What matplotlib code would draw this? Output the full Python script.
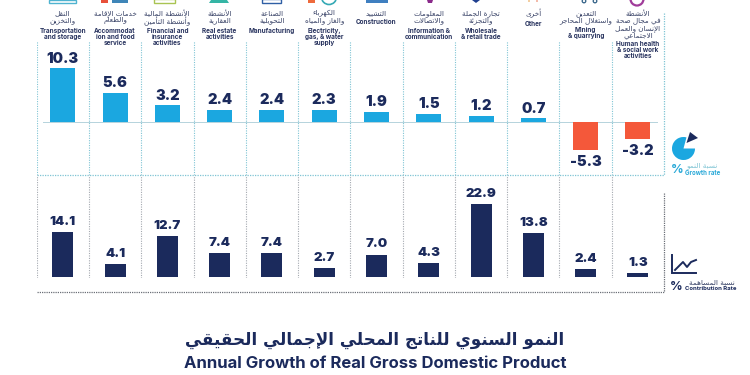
"""
Annual growth of real GDP by sector: growth rate and contribution rate panels
"""
import numpy as np
import matplotlib
matplotlib.use("Agg")
import matplotlib.pyplot as plt
from matplotlib.patches import Rectangle, Circle, Wedge, Polygon, Arc

# data
growth_rate = [10.3, 5.6, 3.2, 2.4, 2.4, 2.3, 1.9, 1.5, 1.2, 0.7, -5.3, -3.2]
contribution_rate = [14.1, 4.1, 12.7, 7.4, 7.4, 2.7, 7.0, 4.3, 22.9, 13.8, 2.4, 1.3]
labels_en = [
    ["Transportation", "and storage"],
    ["Accommodat", "ion and food", "service"],
    ["Financial and", "insurance", "activities"],
    ["Real estate", "activities"],
    ["Manufacturing"],
    ["Electricity,", "gas, & water", "supply"],
    ["Construction"],
    ["Information &", "communication"],
    ["Wholesale", "& retail trade"],
    ["Other"],
    ["Mining", "& quarrying"],
    ["Human health", "& social work", "activities"],
]
labels_ar = [
    ["النقل", "والتخزين"],
    ["خدمات الإقامة", "والطعام"],
    ["الأنشطة المالية", "وأنشطة التأمين"],
    ["الأنشطة", "العقارية"],
    ["الصناعة", "التحويلية"],
    ["الكهرباء", "والغاز والمياه"],
    ["التشييد"],
    ["المعلومات", "والاتصالات"],
    ["تجارة الجملة", "والتجزئة"],
    ["أخرى"],
    ["التعدين", "واستغلال المحاجر"],
    ["الأنشطة", "في مجال صحة", "الإنسان والعمل", "الاجتماعي"],
]
en_top = [31, 31, 31, 31, 31.5, 31, 22, 31, 31, 24, 30, 44]

BLUE = "#1ba7e0"
ORANGE = "#f4583a"
NAVY = "#1b2a5c"
TEAL = "#7fc4d4"
GRAY = "#a4a9b0"
W, H = 750, 375

# Arabic presentation forms: (first codepoint, number of forms)
FORMS = {"ء": (0xFE80, 1), "آ": (0xFE81, 2), "أ": (0xFE83, 2), "ؤ": (0xFE85, 2), "إ": (0xFE87, 2),
         "ئ": (0xFE89, 4), "ا": (0xFE8D, 2), "ب": (0xFE8F, 4), "ة": (0xFE93, 2), "ت": (0xFE95, 4),
         "ث": (0xFE99, 4), "ج": (0xFE9D, 4), "ح": (0xFEA1, 4), "خ": (0xFEA5, 4), "د": (0xFEA9, 2),
         "ذ": (0xFEAB, 2), "ر": (0xFEAD, 2), "ز": (0xFEAF, 2), "س": (0xFEB1, 4), "ش": (0xFEB5, 4),
         "ص": (0xFEB9, 4), "ض": (0xFEBD, 4), "ط": (0xFEC1, 4), "ظ": (0xFEC5, 4), "ع": (0xFEC9, 4),
         "غ": (0xFECD, 4), "ف": (0xFED1, 4), "ق": (0xFED5, 4), "ك": (0xFED9, 4), "ل": (0xFEDD, 4),
         "م": (0xFEE1, 4), "ن": (0xFEE5, 4), "ه": (0xFEE9, 4), "و": (0xFEED, 2), "ى": (0xFEEF, 2),
         "ي": (0xFEF1, 4)}
LAM_ALEF = {"آ": 0xFEF5, "أ": 0xFEF7, "إ": 0xFEF9, "ا": 0xFEFB}


def shape_ar(text):
    # matplotlib does no Arabic shaping, so pick the forms and reverse by hand
    out = []
    i = 0
    joins = False
    while i < len(text):
        c = text[i]
        if c not in FORMS:
            out.append(c)
            joins = False
            i += 1
            continue
        nxt = text[i + 1] if i + 1 < len(text) else ""
        if c == "ل" and nxt in LAM_ALEF:
            out.append(chr(LAM_ALEF[nxt] + (1 if joins else 0)))
            joins = False
            i += 2
            continue
        start, n = FORMS[c]
        next_joinable = nxt in FORMS
        if n == 4:
            form = (3 if next_joinable else 1) if joins else (2 if next_joinable else 0)
            joins = next_joinable
        elif n == 2:
            form = 1 if joins else 0
            joins = False
        else:
            form = 0
            joins = False
        out.append(chr(start + form))
        i += 1
    return "".join(reversed(out))


def px_axes(x0, x1, y0, y1):
    return fig.add_axes([x0 / W, 1 - y1 / H, (x1 - x0) / W, (y1 - y0) / H])


fig = plt.figure(figsize=(7.5, 3.75), dpi=100, facecolor="white")

# overlay in pixel coordinates for decoration and text
bg = fig.add_axes([0, 0, 1, 1])
bg.set_xlim(0, W)
bg.set_ylim(H, 0)
bg.axis("off")

x = np.arange(len(growth_rate))

# top panel
ax1 = px_axes(36.7, 664, 41, 175)
ax1.set_xlim(-0.5, 11.5)
ax1.set_ylim(-(175 - 122) / 5.2, (122 - 41) / 5.2)
ax1.bar(x, growth_rate, width=0.478, color=[BLUE if v > 0 else ORANGE for v in growth_rate], zorder=3)
ax1.plot([-0.37, 11.37], [0, 0], color="#b5d3dc", lw=0.7, zorder=2)
for i, v in zip(x, growth_rate):
    off = 2 if v > 0 else -4
    ax1.annotate(f"{v:.1f}", (i, v), xytext=(0, off), textcoords="offset points", ha="center",
                 va="bottom" if v > 0 else "top", fontsize=10.5, fontweight="black", family="Inter", color=NAVY)

# bottom panel
ax2 = px_axes(36.7, 664, 175, 278)
ax2.set_xlim(-0.5, 11.5)
ax2.set_ylim(-1 / 3.2, 102 / 3.2)
ax2.bar(x, contribution_rate, width=0.402, color=NAVY, zorder=3)
for i, v in zip(x, contribution_rate):
    ax2.annotate(f"{v:.1f}", (i, v), xytext=(0, 3), textcoords="offset points", ha="center", va="bottom",
                 fontsize=9.5, fontweight="black", family="Inter", color=NAVY)

for ax, col in ((ax1, TEAL), (ax2, GRAY)):
    ax.axis("off")
    ax.patch.set_alpha(0)
    for b in np.arange(-0.5, 11.5):
        ax.axvline(b, color=col, lw=0.8, ls=(0, (1, 1.2)), zorder=1)

# frame lines
bg.plot([664, 664], [13, 175], color=TEAL, lw=0.9, ls=(0, (1, 1)))
bg.plot([36.7, 664], [175, 175], color=TEAL, lw=0.9, ls=(0, (1, 1)))
bg.plot([36.7, 664], [292, 292], color="#6c7078", lw=0.9, ls=(0, (1, 0.8)))
bg.plot([664, 664], [193, 292], color="#6c7078", lw=0.9, ls=(0, (1, 0.8)))

# category labels
for i, (ar, en, top) in enumerate(zip(labels_ar, labels_en, en_top)):
    cx = 62.7 + 52.3 * i
    for j, line in enumerate(ar):
        bg.text(cx, 13.5 + 7.4 * j, shape_ar(line), ha="center", va="center", fontsize=5.2,
                family="DejaVu Sans", color="#3a4468")
    for j, line in enumerate(en):
        bg.text(cx, top + 6 * j, line, ha="center", va="center", fontsize=4.6, fontweight="bold",
                family="Inter", color="#2a3560")

# cropped icons along the top edge
bg.add_patch(Rectangle((49, 0), 27, 2.5, fc="none", ec="#4fb3d0", lw=1))
bg.add_patch(Rectangle((101, 0), 7, 3, fc="#e8503a", ec="none"))
bg.add_patch(Rectangle((112, 0), 16, 3, fc="#3f86b8", ec="none"))
bg.add_patch(Rectangle((154, -1), 21, 4, fc="none", ec="#a9c452", lw=1))
bg.add_patch(Polygon([(211, 0), (227, 0), (229, 3), (209, 3)], fc="#35b5a5", ec="none"))
bg.add_patch(Rectangle((262, -1), 19, 4, fc="none", ec="#2f5fa5", lw=1))
bg.add_patch(Rectangle((308, 0), 7, 2.5, fc="#ee6a3c", ec="none"))
bg.add_patch(Arc((329, -3), 15, 15, theta1=0, theta2=180, color="#35a9b5", lw=1.2))
bg.add_patch(Rectangle((366, 0), 22, 3, fc="#3f7fc0", ec="none"))
bg.add_patch(Polygon([(427, 0), (433, 0), (432, 3), (428, 3)], fc="#8a2a8a", ec="none"))
bg.add_patch(Polygon([(472, 0), (480, 0), (476, 3)], fc="#1f3f8f", ec="none"))
bg.add_patch(Circle((529, 1), 0.8, fc="#e8a04a", ec="none"))
bg.add_patch(Circle((537, 1), 0.8, fc="#e87a5a", ec="none"))
bg.add_patch(Circle((584, 1), 1.8, fc="none", ec="#2f5f85", lw=0.9))
bg.add_patch(Circle((595, 1), 1.8, fc="none", ec="#2f5f85", lw=0.9))
bg.add_patch(Arc((637, -1), 13, 13, theta1=0, theta2=180, color="#a03c9a", lw=1.6))

# growth legend
bg.add_patch(Wedge((683.5, 148.5), 11.5, 0, 285, fc=BLUE, ec="none"))
bg.add_patch(Polygon([(686.5, 143), (690, 132), (698, 138)], fc=NAVY, ec="none"))
bg.text(677, 170, "%", ha="center", va="center", fontsize=9, fontweight="bold", family="Inter", color="#2aa9d8")
bg.text(718, 166, shape_ar("نسبة النمو"), ha="right", va="center", fontsize=5.2, family="DejaVu Sans", color=TEAL)
bg.text(685, 173, "Growth rate", ha="left", va="center", fontsize=4.4, fontweight="bold", family="Inter", color="#2aa9d8")

# contribution legend
bg.plot([672, 672, 696], [255, 273, 273], color=NAVY, lw=1.4, solid_joinstyle="miter")
bg.plot([675, 683, 687, 691, 696], [270, 262, 267, 262, 260], color=NAVY, lw=1.4)
bg.text(676, 287, "%", ha="center", va="center", fontsize=9, fontweight="bold", family="Inter", color=NAVY)
bg.text(735, 282, shape_ar("نسبة المساهمة"), ha="right", va="center", fontsize=5.2, family="DejaVu Sans", color="#3a4468")
bg.text(685, 289, "Contribution Rate", ha="left", va="center", fontsize=4.3, fontweight="bold", family="Inter", color=NAVY)

# titles
bg.text(375, 340, shape_ar("النمو السنوي للناتج المحلي الإجمالي الحقيقي"), ha="center", va="center",
        fontsize=12.1, fontweight="bold", family="DejaVu Sans", color=NAVY)
bg.text(375, 364, "Annual Growth of Real Gross Domestic Product", ha="center", va="center",
        fontsize=12, fontweight="bold", family="Inter", color=NAVY)

plt.savefig("out.png", dpi=100)
